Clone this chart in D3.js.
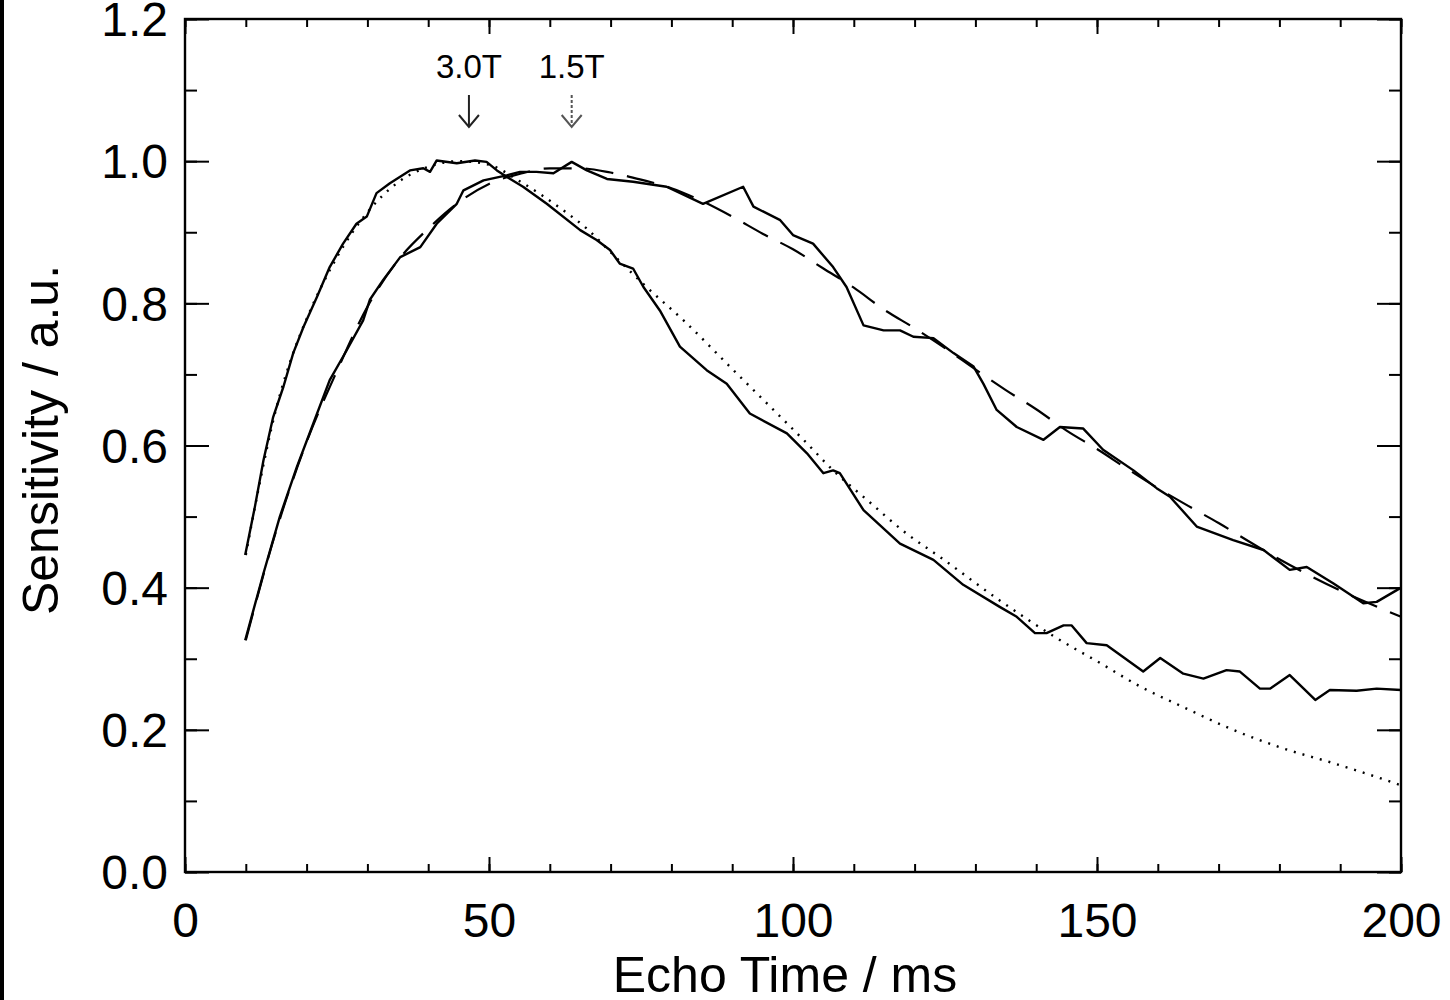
<!DOCTYPE html>
<html>
<head>
<meta charset="utf-8">
<script src="https://cdn.jsdelivr.net/npm/d3@7"></script>
<style>
  body { margin: 0; background: #fff; }
  svg text { font-family: "Liberation Sans", Arial, Helvetica, sans-serif; fill: #000; }
</style>
</head>
<body>
<svg id="chart" width="1450" height="1000"></svg>
<script>
// measured 3.0T sensitivity (solid)
var te30 = [9.9, 11.5, 12.9, 14.5, 16.2, 17.8, 19.5, 21.7, 23.8, 26.0, 28.2, 29.9, 31.5, 33.7, 37.0, 39.2, 40.3, 41.4, 44.7, 47.7, 49.6, 51.3, 52.9, 55.6, 59.5, 65.0, 67.7, 69.9, 71.5, 73.7, 75.4, 78.1, 81.4, 85.8, 89.1, 92.9, 99.0, 102.3, 105.0, 106.6, 107.7, 111.6, 117.6, 123.1, 128, 134.0, 136.8, 139.8, 141.7, 144.5, 145.8, 148.3, 151.6, 157.6, 160.4, 164.2, 167.5, 171.3, 173.5, 176.8, 178.5, 181.7, 185.9, 188.3, 192.7, 196.0, 200];
var sens30 = [0.446, 0.514, 0.579, 0.640, 0.683, 0.730, 0.767, 0.809, 0.851, 0.884, 0.912, 0.922, 0.955, 0.969, 0.987, 0.990, 0.985, 1.001, 0.997, 1.001, 0.999, 0.987, 0.978, 0.964, 0.940, 0.903, 0.889, 0.875, 0.856, 0.849, 0.823, 0.790, 0.739, 0.706, 0.687, 0.645, 0.617, 0.589, 0.561, 0.565, 0.561, 0.509, 0.462, 0.439, 0.404, 0.373, 0.359, 0.336, 0.336, 0.347, 0.347, 0.322, 0.319, 0.282, 0.301, 0.279, 0.272, 0.284, 0.282, 0.258, 0.258, 0.277, 0.242, 0.256, 0.255, 0.258, 0.256];

// predicted 3.0T curve (dotted)
var teFit30 = [10, 12, 15, 18, 20, 25, 30, 35, 40, 45, 50, 55, 62.2, 66.1, 70, 75.9, 82.0, 90.2, 96.8, 102.3, 106.6, 112.1, 118.7, 124.2, 134, 143.4, 150.5, 157.1, 164.2, 172.4, 180.6, 188.9, 197.6, 200];
var fit30 = [0.446, 0.535, 0.652, 0.735, 0.778, 0.865, 0.928, 0.970, 0.992, 1.000, 0.995, 0.972, 0.931, 0.905, 0.872, 0.823, 0.776, 0.706, 0.650, 0.603, 0.565, 0.524, 0.476, 0.443, 0.382, 0.329, 0.294, 0.261, 0.232, 0.200, 0.174, 0.153, 0.129, 0.122];

// measured 1.5T sensitivity (solid)
var te15 = [9.9, 12.9, 15.6, 18.4, 21.1, 23.8, 26.6, 29.3, 30.4, 32.6, 35.4, 38.7, 41.4, 44.7, 45.8, 49.1, 52.9, 55.1, 57.8, 60.6, 63.6, 66.1, 69.4, 73.7, 79.2, 85.2, 91.8, 93.5, 97.9, 100.0, 103.3, 106.6, 108.8, 111.6, 114.9, 117.6, 119.8, 123.1, 126.4, 129.7, 131.3, 133.5, 136.8, 141.2, 143.9, 147.7, 151.0, 156.0, 159.8, 162.0, 166.4, 172.4, 177.4, 181.7, 184.5, 188.9, 193.8, 196.0, 199.8];
var sens15 = [0.326, 0.420, 0.500, 0.570, 0.631, 0.692, 0.734, 0.776, 0.805, 0.833, 0.865, 0.879, 0.912, 0.940, 0.959, 0.973, 0.980, 0.985, 0.985, 0.983, 0.999, 0.987, 0.975, 0.971, 0.964, 0.940, 0.964, 0.936, 0.917, 0.896, 0.884, 0.851, 0.823, 0.769, 0.762, 0.762, 0.753, 0.751, 0.730, 0.711, 0.687, 0.650, 0.626, 0.608, 0.626, 0.624, 0.594, 0.565, 0.540, 0.528, 0.486, 0.467, 0.453, 0.425, 0.429, 0.406, 0.378, 0.380, 0.399];

// predicted 1.5T curve (long dashes)
var teFit15 = [10, 15, 20, 25, 30, 35, 40, 45, 50, 55, 60, 65, 70, 75, 80, 85, 90, 95, 100, 105, 110, 115, 120, 125, 130, 135, 140, 145, 150, 155, 160, 165, 170, 175, 180, 185, 190, 195, 200];
var fit15 = [0.326, 0.480, 0.605, 0.705, 0.795, 0.860, 0.905, 0.942, 0.968, 0.982, 0.990, 0.990, 0.984, 0.974, 0.962, 0.944, 0.922, 0.898, 0.876, 0.849, 0.822, 0.791, 0.765, 0.737, 0.707, 0.678, 0.651, 0.621, 0.595, 0.567, 0.540, 0.515, 0.491, 0.465, 0.440, 0.417, 0.396, 0.377, 0.359];

// T2* arrows
var arrowLabels = ["3.0T", "1.5T"];
var arrowTE = [46.7, 63.6];

var xTicks = [0, 50, 100, 150, 200];
var yTicks = [0, 0.2, 0.4, 0.6, 0.8, 1.0, 1.2];

var margin = {left: 185, top: 19, right: 49, bottom: 128},
    width = 1450 - margin.left - margin.right,
    height = 1000 - margin.top - margin.bottom;

var svg = d3.select("#chart");

// dark strip on the left edge of the scan
svg.append("rect").attr("x", 0).attr("y", 0).attr("width", 4).attr("height", 1000).attr("fill", "#000");

var g = svg.append("g").attr("transform", "translate(" + margin.left + "," + margin.top + ")");

var x = d3.scaleLinear().domain([0, 200]).range([0, width]);
var y = d3.scaleLinear().domain([0, 1.2]).range([height, 0]);

var zip = function (a, b) { return a.map(function (d, i) { return [d, b[i]]; }); };

// minor ticks first
var xMinor = d3.range(0, 201, 10);
var yMinor = d3.range(0, 1.21, 0.1);

g.append("g").attr("transform", "translate(0," + height + ")")
    .call(d3.axisBottom(x).tickValues(xMinor).tickSize(-8).tickFormat(""));
g.append("g")
    .call(d3.axisTop(x).tickValues(xMinor).tickSize(-8).tickFormat(""));
g.append("g")
    .call(d3.axisLeft(y).tickValues(yMinor).tickSize(-12).tickFormat(""));
g.append("g").attr("transform", "translate(" + width + ",0)")
    .call(d3.axisRight(y).tickValues(yMinor).tickSize(-12).tickFormat(""));

// major ticks with labels
var xAxis = g.append("g").attr("transform", "translate(0," + height + ")")
    .call(d3.axisBottom(x).tickValues(xTicks).tickSize(-15).tickPadding(31).tickFormat(d3.format("d")));
g.append("g")
    .call(d3.axisTop(x).tickValues(xTicks).tickSize(-15).tickFormat(""));
var yAxis = g.append("g")
    .call(d3.axisLeft(y).tickValues(yTicks).tickSize(-24).tickPadding(17).tickFormat(d3.format(".1f")));
g.append("g").attr("transform", "translate(" + width + ",0)")
    .call(d3.axisRight(y).tickValues(yTicks).tickSize(-24).tickFormat(""));

g.selectAll(".domain").remove();
g.selectAll(".tick line").attr("stroke", "#000").attr("stroke-width", 2);
xAxis.selectAll("text").attr("font-size", 48).attr("fill", "#000");
yAxis.selectAll("text").attr("font-size", 48).attr("fill", "#000").attr("dy", "0.35em");

// frame
g.append("rect")
    .attr("x", 0).attr("y", 0)
    .attr("width", width).attr("height", height)
    .attr("fill", "none").attr("stroke", "#000").attr("stroke-width", 2.4);

var line = d3.line()
    .x(function (d) { return x(d[0]); })
    .y(function (d) { return y(d[1]); });

var smooth = d3.line()
    .x(function (d) { return x(d[0]); })
    .y(function (d) { return y(d[1]); })
    .curve(d3.curveMonotoneX);

g.append("path").datum(zip(teFit30, fit30))
    .attr("d", smooth).attr("fill", "none").attr("stroke", "#000")
    .attr("stroke-width", 2.4).attr("stroke-dasharray", "2,7");

g.append("path").datum(zip(teFit15, fit15))
    .attr("d", smooth).attr("fill", "none").attr("stroke", "#000")
    .attr("stroke-width", 2.2).attr("stroke-dasharray", "28,14");

g.append("path").datum(zip(te30, sens30))
    .attr("d", line).attr("fill", "none").attr("stroke", "#000")
    .attr("stroke-width", 2.4).attr("stroke-linejoin", "round");

g.append("path").datum(zip(te15, sens15))
    .attr("d", line).attr("fill", "none").attr("stroke", "#000")
    .attr("stroke-width", 2.4).attr("stroke-linejoin", "round");

// arrow annotations
arrowTE.forEach(function (t, i) {
    var ax = x(t);
    var col = i == 0 ? "#222" : "#555";
    g.append("text")
        .attr("x", ax).attr("y", 78 - margin.top)
        .attr("text-anchor", "middle")
        .attr("font-size", 33)
        .text(arrowLabels[i]);
    g.append("line")
        .attr("x1", ax).attr("x2", ax)
        .attr("y1", 95 - margin.top).attr("y2", 126 - margin.top)
        .attr("stroke", col).attr("stroke-width", 2)
        .attr("stroke-dasharray", i == 0 ? null : "3,2");
    g.append("path")
        .attr("d", "M" + (ax - 10) + "," + (115 - margin.top) + "L" + ax + "," + (127 - margin.top) + "L" + (ax + 10) + "," + (115 - margin.top))
        .attr("fill", "none").attr("stroke", col).attr("stroke-width", 2);
});

// axis titles
svg.append("text")
    .attr("x", 785).attr("y", 992)
    .attr("text-anchor", "middle")
    .attr("font-size", 50)
    .text("Echo Time / ms");

svg.append("text")
    .attr("transform", "translate(58,440) rotate(-90)")
    .attr("text-anchor", "middle")
    .attr("font-size", 50)
    .text("Sensitivity / a.u.");
</script>
</body>
</html>
